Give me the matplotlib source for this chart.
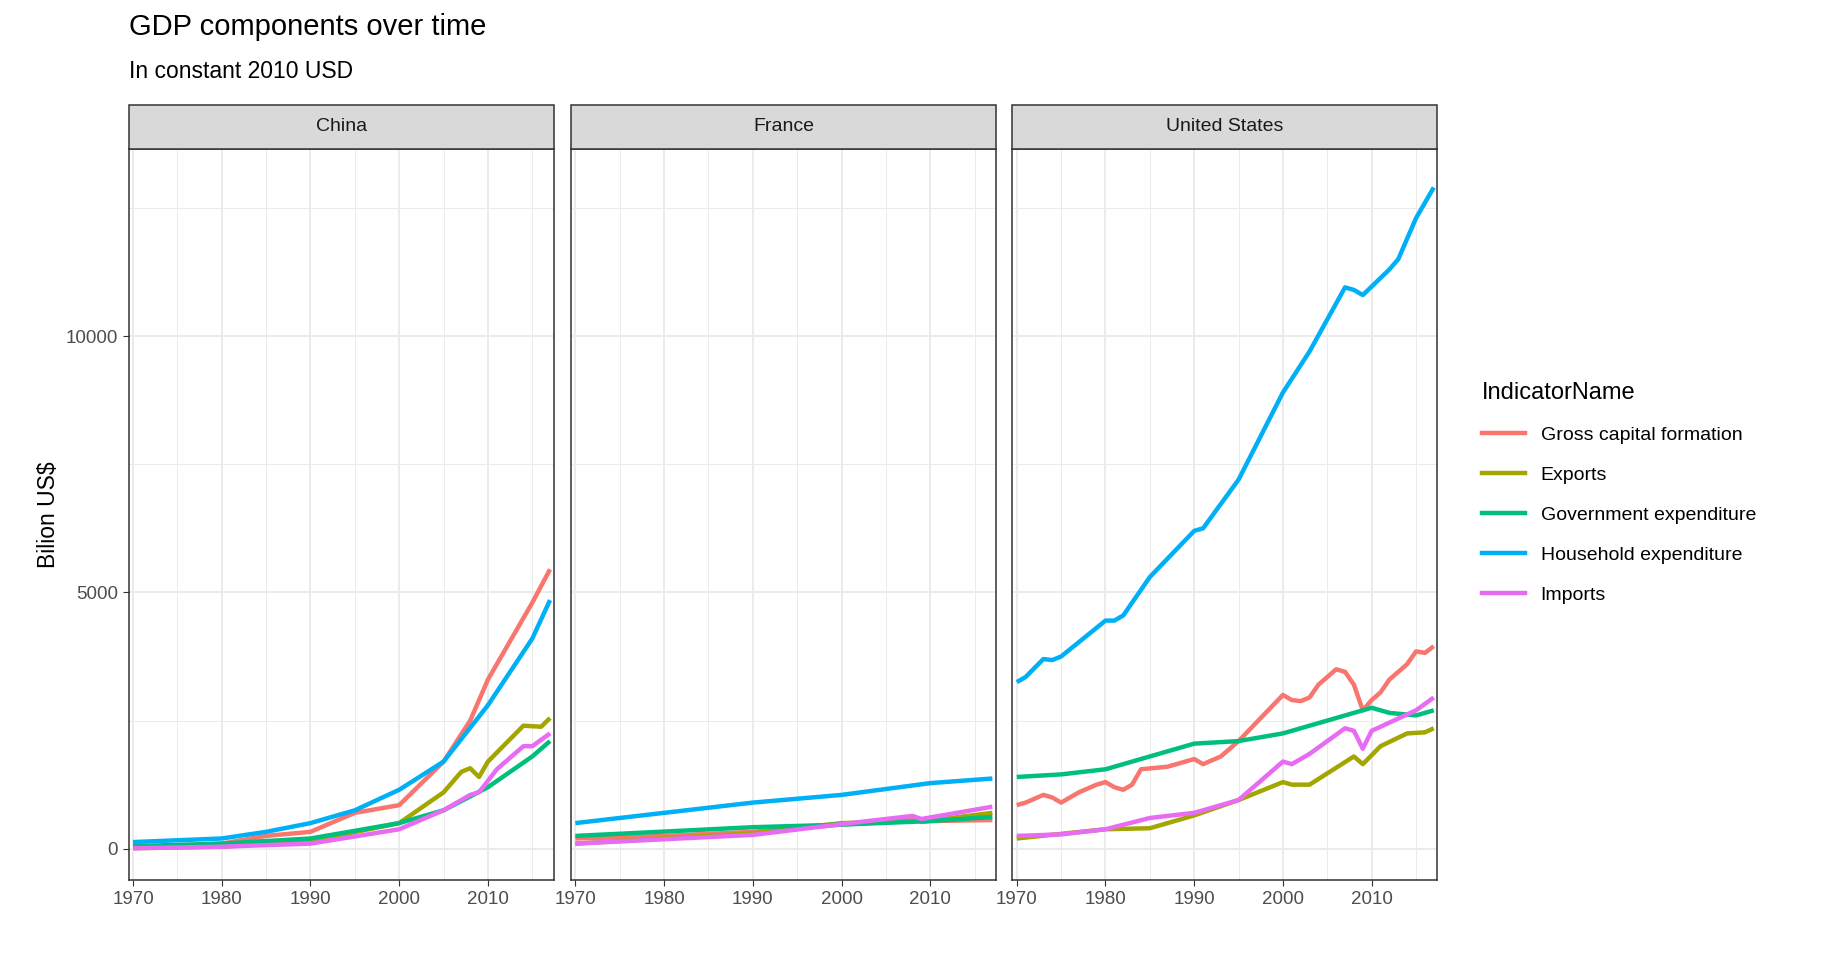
import matplotlib
matplotlib.use("Agg")
import matplotlib.pyplot as plt
from matplotlib.lines import Line2D

countries = ["China", "France", "United States"]
indicators = ["Gross capital formation", "Exports", "Government expenditure",
              "Household expenditure", "Imports"]
colors = ["#F8766D", "#A3A500", "#00BF7D", "#00B0F6", "#E76BF3"]

# (years, values) per country / indicator, billions of 2010 USD
china_gcf_y = [1970, 1980, 1985, 1990, 1995, 2000, 2005, 2008, 2010, 2015, 2017]
china_gcf = [30, 100, 250, 330, 700, 850, 1700, 2500, 3300, 4800, 5450]
china_exp_y = [1970, 1980, 1990, 2000, 2005, 2007, 2008, 2009, 2010, 2014, 2016, 2017]
china_exp = [10, 40, 150, 500, 1100, 1500, 1570, 1400, 1700, 2400, 2380, 2550]
china_gov_y = [1970, 1980, 1990, 2000, 2005, 2010, 2015, 2017]
china_gov = [50, 100, 200, 500, 750, 1200, 1800, 2100]
china_hh_y = [1970, 1980, 1985, 1990, 1995, 2000, 2005, 2010, 2015, 2017]
china_hh = [130, 200, 330, 500, 750, 1150, 1700, 2800, 4100, 4850]
china_imp_y = [1970, 1980, 1990, 2000, 2005, 2008, 2009, 2011, 2014, 2015, 2017]
china_imp = [10, 40, 100, 380, 750, 1050, 1100, 1550, 2000, 2000, 2250]

france_gcf_y = [1970, 1980, 1990, 2000, 2008, 2009, 2010, 2017]
france_gcf = [200, 250, 330, 470, 620, 520, 540, 560]
france_exp_y = [1970, 1990, 2000, 2010, 2017]
france_exp = [100, 300, 500, 550, 700]
france_gov_y = [1970, 1990, 2000, 2010, 2017]
france_gov = [250, 420, 470, 540, 620]
france_hh_y = [1970, 1980, 1990, 2000, 2010, 2017]
france_hh = [500, 700, 900, 1050, 1280, 1370]
france_imp_y = [1970, 1990, 2000, 2008, 2009, 2017]
france_imp = [100, 270, 480, 640, 580, 820]

us_gcf_y = [1970, 1971, 1973, 1974, 1975, 1977, 1979, 1980, 1981, 1982, 1983, 1984,
            1987, 1989, 1990, 1991, 1993, 1995, 2000, 2001, 2002, 2003, 2004, 2006,
            2007, 2008, 2009, 2010, 2011, 2012, 2014, 2015, 2016, 2017]
us_gcf = [850, 900, 1050, 1000, 900, 1100, 1250, 1300, 1200, 1150, 1250, 1550,
          1600, 1700, 1750, 1650, 1800, 2100, 3000, 2900, 2880, 2950, 3200, 3500,
          3450, 3200, 2700, 2900, 3050, 3300, 3600, 3850, 3820, 3950]
us_exp_y = [1970, 1980, 1985, 1990, 1995, 2000, 2001, 2003, 2008, 2009, 2011, 2014, 2016, 2017]
us_exp = [200, 380, 400, 650, 950, 1300, 1250, 1250, 1800, 1650, 2000, 2250, 2270, 2350]
us_gov_y = [1970, 1975, 1980, 1985, 1990, 1995, 2000, 2005, 2010, 2012, 2015, 2017]
us_gov = [1400, 1450, 1550, 1800, 2050, 2100, 2250, 2500, 2750, 2650, 2600, 2700]
us_hh_y = [1970, 1971, 1973, 1974, 1975, 1980, 1981, 1982, 1985, 1990, 1991, 1995,
           2000, 2003, 2007, 2008, 2009, 2012, 2013, 2015, 2017]
us_hh = [3250, 3350, 3700, 3680, 3750, 4450, 4450, 4550, 5300, 6200, 6250, 7200,
         8900, 9700, 10950, 10900, 10800, 11300, 11500, 12300, 12900]
us_imp_y = [1970, 1975, 1980, 1985, 1990, 1995, 2000, 2001, 2003, 2007, 2008, 2009,
            2010, 2015, 2017]
us_imp = [250, 280, 380, 600, 700, 950, 1700, 1650, 1850, 2350, 2300, 1950,
          2300, 2700, 2950]

data = {
    "China": [(china_gcf_y, china_gcf), (china_exp_y, china_exp), (china_gov_y, china_gov),
              (china_hh_y, china_hh), (china_imp_y, china_imp)],
    "France": [(france_gcf_y, france_gcf), (france_exp_y, france_exp), (france_gov_y, france_gov),
               (france_hh_y, france_hh), (france_imp_y, france_imp)],
    "United States": [(us_gcf_y, us_gcf), (us_exp_y, us_exp), (us_gov_y, us_gov),
                      (us_hh_y, us_hh), (us_imp_y, us_imp)],
}

plt.rcParams['font.family'] = ['Liberation Sans', 'DejaVu Sans']
fig = plt.figure(figsize=(18.24, 9.6), dpi=100)

lefts = [0.0705, 0.313, 0.555]
width = 0.233
bottom, height = 0.083, 0.762
grey = "#333333"
for i, c in enumerate(countries):
    ax = fig.add_axes([lefts[i], bottom, width, height])
    for (yrs, vals), col in zip(data[c], colors):
        ax.plot(yrs, vals, color=col, lw=3.2, solid_capstyle="butt")
    ax.set_xlim(1969.5, 2017.4)
    ax.set_ylim(-616, 13653)
    ax.set_xticks([1970, 1980, 1990, 2000, 2010])
    ax.set_xticks([1975, 1985, 1995, 2005, 2015], minor=True)
    ax.set_yticks([0, 5000, 10000])
    ax.set_yticks([2500, 7500, 12500], minor=True)
    ax.grid(True, which="major", color="#EBEBEB", lw=1.4)
    ax.grid(True, which="minor", color="#EBEBEB", lw=0.7)
    ax.set_axisbelow(True)
    for s in ax.spines.values():
        s.set_color(grey)
        s.set_linewidth(1.1)
    ax.tick_params(colors=grey, labelcolor="#4D4D4D", labelsize=13.5, length=4)
    ax.tick_params(which="minor", length=0)
    if i > 0:
        ax.tick_params(labelleft=False, left=False)
    else:
        ax.set_ylabel("Bilion US$", fontsize=16.5)
    ax.text(0.5, 1.03, c, transform=ax.transAxes, ha="center", va="center", fontsize=14,
            color="#1A1A1A",
            bbox=dict(boxstyle="square,pad=0", facecolor="#D9D9D9", edgecolor=grey))
    # strip box
    from matplotlib.patches import Rectangle
    ax.add_patch(Rectangle((0, 1.0), 1, 0.0595, transform=ax.transAxes, facecolor="#D9D9D9",
                           edgecolor=grey, lw=1.1, clip_on=False, zorder=3))
    ax.texts[-1].set_bbox(None)
    ax.texts[-1].set_y(1.03)
    ax.texts[-1].set_zorder(4)

fig.text(0.0705, 0.972, "GDP components over time", fontsize=21, va="center")
fig.text(0.0705, 0.925, "In constant 2010 USD", fontsize=16.5, va="center")

handles = [Line2D([], [], color=col, lw=3.2) for col in colors]
fig.legend(handles, indicators, loc="upper left", bbox_to_anchor=(0.803, 0.62),
           frameon=False, fontsize=14, title="IndicatorName", title_fontsize=17,
           handlelength=2.2, labelspacing=1.15, alignment="left")

fig.savefig("out.png", dpi=100)
